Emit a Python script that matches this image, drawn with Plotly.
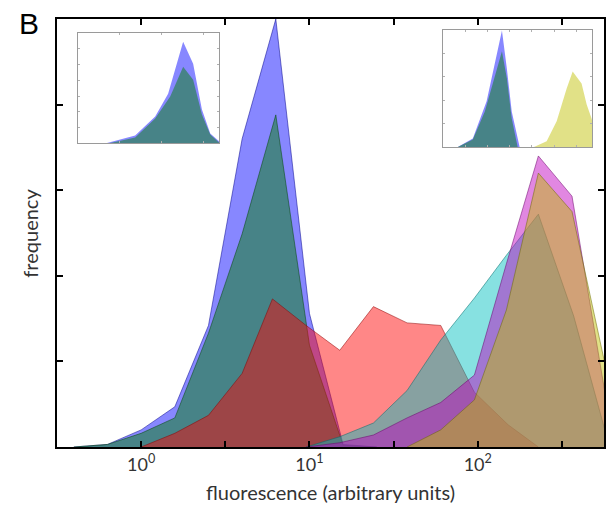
import numpy as np
import plotly.graph_objects as go

# ---------------- main panel data (log10 fluorescence, frequency) ----------------
blue_logx = [-0.4, -0.2, 0.0, 0.2, 0.4, 0.6, 0.8, 1.0, 1.2, 1.4]
blue_val = [0.0, 0.03, 0.20, 0.47, 1.42, 3.60, 5.0, 1.56, 0.03, 0.0]

green_logx = [-0.4, -0.2, 0.0, 0.2, 0.4, 0.6, 0.8, 1.0, 1.2, 1.4]
green_val = [0.0, 0.03, 0.16, 0.34, 1.33, 2.49, 3.88, 1.19, 0.02, 0.0]

red_logx = [0.0, 0.2, 0.4, 0.6, 0.78, 0.98, 1.18, 1.38, 1.58, 1.78, 1.98, 2.18, 2.36]
red_val = [0.0, 0.16, 0.37, 0.86, 1.73, 1.42, 1.13, 1.64, 1.45, 1.42, 0.64, 0.26, 0.0]

cyan_logx = [0.98, 1.18, 1.38, 1.58, 1.78, 1.98, 2.17, 2.36, 2.57, 2.78]
cyan_val = [0.0, 0.12, 0.28, 0.66, 1.25, 1.74, 2.24, 2.72, 1.53, 0.02]

magenta_logx = [0.98, 1.18, 1.38, 1.58, 1.78, 1.98, 2.17, 2.36, 2.56, 2.78, 2.98]
magenta_val = [0.0, 0.05, 0.14, 0.34, 0.52, 0.84, 2.14, 3.40, 2.93, 0.35, 0.0]

olive_logx = [1.58, 1.78, 1.98, 2.17, 2.36, 2.56, 2.78, 2.98]
olive_val = [0.0, 0.20, 0.55, 1.60, 3.20, 2.75, 0.75, 0.0]

# ---------------- inset data ----------------
inL_blue_x = [0.65, 1.37, 1.85, 2.16, 2.52, 2.76, 2.97, 3.17, 3.38]
inL_blue_y = [0.0, 0.5, 1.7, 3.15, 6.45, 5.05, 2.15, 0.63, 0.13]
inL_green_x = [0.72, 1.37, 1.85, 2.21, 2.52, 2.76, 2.97, 3.17, 3.38]
inL_green_y = [0.0, 0.38, 1.58, 2.97, 4.86, 4.04, 1.83, 0.57, 0.06]

inR_blue_x = [0.62, 1.34, 1.96, 2.33, 2.65, 2.87, 3.09, 3.45]
inR_blue_y = [0.0, 0.38, 1.96, 3.66, 4.98, 3.36, 1.53, 0.0]
inR_green_x = [0.62, 1.34, 1.88, 2.42, 2.65, 2.87, 3.09, 3.36]
inR_green_y = [0.0, 0.34, 1.53, 3.36, 4.09, 2.94, 1.23, 0.0]
inR_olive_x = [4.04, 4.66, 5.11, 5.56, 5.83, 6.23, 6.46, 6.68, 7.04]
inR_olive_y = [0.0, 0.26, 1.11, 2.51, 3.23, 2.72, 1.83, 1.23, 0.0]

x_major_log = [0, 1, 2]
x_major_text = ["10<sup>0</sup>", "10<sup>1</sup>", "10<sup>2</sup>"]
x_minor_log = [0.5, 1.5, 2.5]

COLORS = {
    "blue": (0, 0, 255),
    "green": (0, 128, 0),
    "red": (255, 0, 0),
    "cyan": (0, 191, 191),
    "magenta": (191, 0, 191),
    "olive": (191, 191, 0),
}


def fill_col(c, a=0.47):
    return "rgba(%d,%d,%d,%.2f)" % (c[0], c[1], c[2], a)


def edge_col(c):
    return "rgba(%d,%d,%d,0.5)" % (int(c[0] * 0.55), int(c[1] * 0.55), int(c[2] * 0.55))


fig = go.Figure()

main_series = [
    ("blue", blue_logx, blue_val),
    ("green", green_logx, green_val),
    ("red", red_logx, red_val),
    ("cyan", cyan_logx, cyan_val),
    ("magenta", magenta_logx, magenta_val),
    ("olive", olive_logx, olive_val),
]
for name, lx, v in main_series:
    c = COLORS[name]
    fig.add_trace(go.Scatter(
        x=10 ** np.array(lx), y=v, mode="lines", fill="tozeroy",
        fillcolor=fill_col(c), line=dict(color=edge_col(c), width=1),
        xaxis="x", yaxis="y", showlegend=False, hoverinfo="skip"))

inset_left = [("blue", inL_blue_x, inL_blue_y), ("green", inL_green_x, inL_green_y)]
for name, xs, ys in inset_left:
    c = COLORS[name]
    fig.add_trace(go.Scatter(
        x=xs, y=ys, mode="lines", fill="tozeroy", fillcolor=fill_col(c),
        line=dict(color="rgba(0,0,0,0)", width=0),
        xaxis="x2", yaxis="y2", showlegend=False, hoverinfo="skip"))

inset_right = [("blue", inR_blue_x, inR_blue_y), ("green", inR_green_x, inR_green_y),
               ("olive", inR_olive_x, inR_olive_y)]
for name, xs, ys in inset_right:
    c = COLORS[name]
    fig.add_trace(go.Scatter(
        x=xs, y=ys, mode="lines", fill="tozeroy", fillcolor=fill_col(c),
        line=dict(color="rgba(0,0,0,0)", width=0),
        xaxis="x3", yaxis="y3", showlegend=False, hoverinfo="skip"))

FONT = "Lato, Open Sans, sans-serif"

inset_axis = dict(showline=True, linecolor="#9a9a9a", linewidth=1, mirror="ticks",
                  ticks="inside", ticklen=2, tickwidth=1, tickcolor="#b0b0b0",
                  showticklabels=False, showgrid=False, zeroline=False, fixedrange=True)

# the page body adds an 8px offset; the figure is sized so the plot area lands where the reference has it
fig.update_layout(
    width=607, height=512,
    margin=dict(l=49, r=11, t=9, b=73),
    paper_bgcolor="white", plot_bgcolor="white",
    font=dict(family=FONT, color="#333333"),
    xaxis=dict(type="log", range=[-0.5, 2.75],
               tickvals=[10 ** t for t in x_major_log], ticktext=x_major_text,
               ticks="inside", ticklen=6, tickwidth=1.5, tickcolor="black",
               minor=dict(tickvals=[10 ** t for t in x_minor_log], ticks="inside",
                          ticklen=6, tickwidth=1.5, tickcolor="black", showgrid=False),
               showline=True, linecolor="black", linewidth=2, mirror="ticks",
               showgrid=False, zeroline=False,
               tickfont=dict(size=18, family=FONT, color="#333333")),
    yaxis=dict(range=[0, 5], tickvals=[1, 2, 3, 4], showticklabels=False,
               ticks="inside", ticklen=6, tickwidth=1.5, tickcolor="black",
               showline=True, linecolor="black", linewidth=2, mirror="ticks",
               showgrid=False, zeroline=False),
    xaxis2=dict(domain=[0.0384, 0.2962], range=[0, 3.38], tickvals=[1, 2, 3],
                anchor="y2", **inset_axis),
    yaxis2=dict(domain=[0.7093, 0.9674], range=[0, 7], tickvals=[1, 2, 3, 4, 5, 6],
                anchor="x2", **inset_axis),
    xaxis3=dict(domain=[0.7057, 0.9781], range=[0, 6.7], tickvals=[1, 2, 3, 4, 5, 6],
                anchor="y3", **inset_axis),
    yaxis3=dict(domain=[0.70, 0.9744], range=[0, 5.0], tickvals=[1, 2, 3, 4],
                anchor="x3", **inset_axis),
    annotations=[
        dict(text="fluorescence (arbitrary units)", xref="paper", yref="paper",
             x=0.5, y=-0.105, xanchor="center", yanchor="middle", showarrow=False,
             font=dict(size=20, family=FONT, color="#333333")),
        dict(text="frequency", xref="paper", yref="paper", x=-0.05, y=0.5,
             xanchor="center", yanchor="middle", textangle=-90, showarrow=False,
             font=dict(size=20, family=FONT, color="#333333")),
        dict(text="B", xref="paper", yref="paper", x=-0.052, y=0.99,
             xanchor="center", yanchor="middle", showarrow=False,
             font=dict(size=30, family="Liberation Sans, Arial, sans-serif", color="black")),
    ],
)

fig.write_html("out.html")
